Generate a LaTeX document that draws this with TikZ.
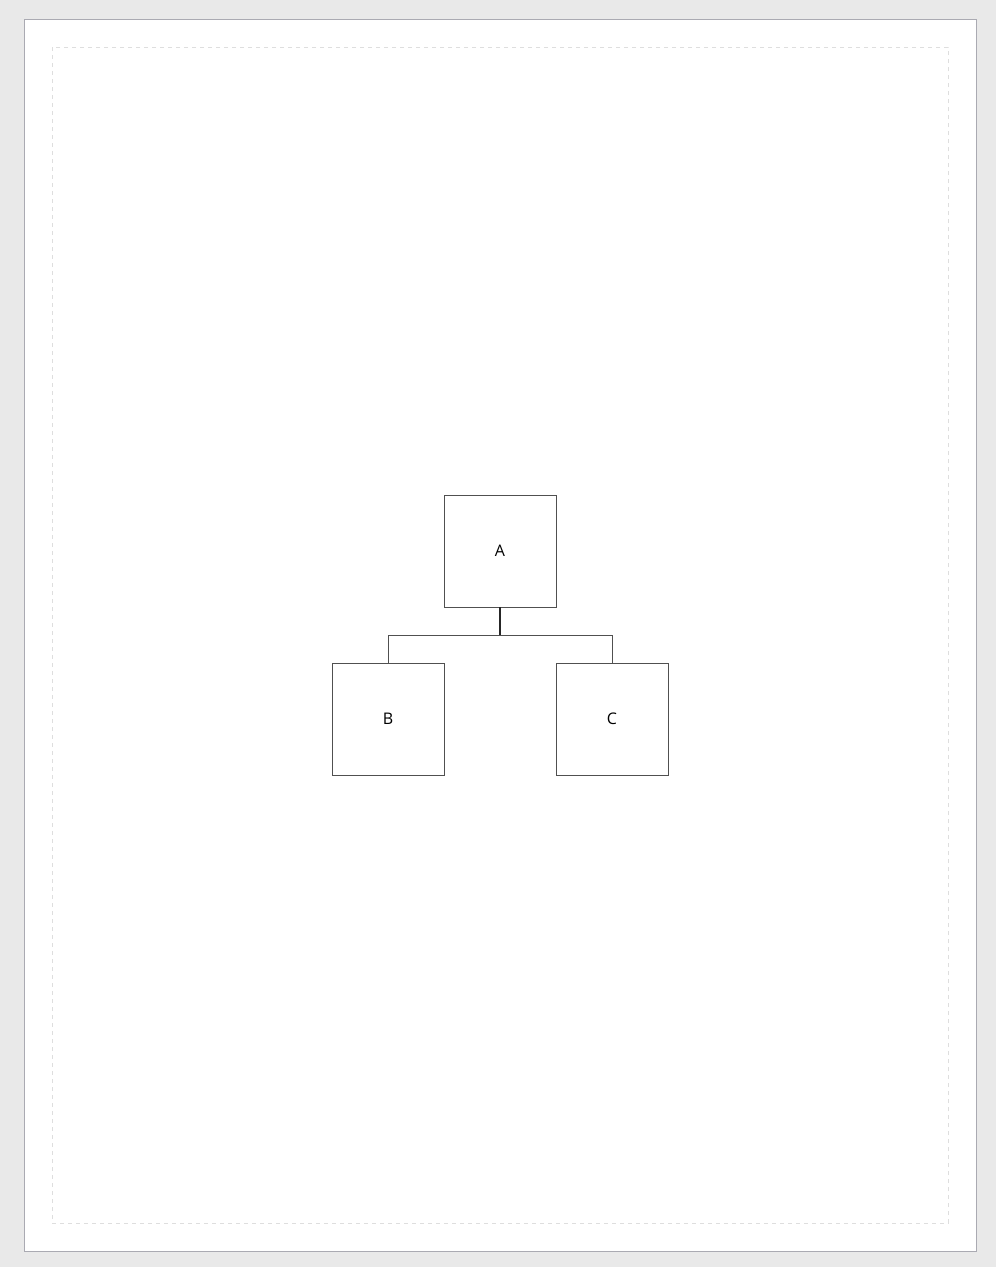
\documentclass[tikz,border=0pt]{standalone}
\usepackage{fontspec}
\setmainfont{Open Sans}
\definecolor{pagegray}{RGB}{233,233,233}
\definecolor{pageedge}{RGB}{170,170,178}
\definecolor{marginline}{RGB}{222,222,222}
\definecolor{boxline}{RGB}{80,80,80}
\usetikzlibrary{calc,positioning}

\begin{document}
\begin{tikzpicture}[
      x=0.75pt, y=-0.75pt,
      font=\fontsize{12pt}{14pt}\selectfont,
      unit/.style={draw=boxline,line width=0.75pt,rectangle,minimum size=84pt,inner sep=0pt,outer sep=0pt},
      link/.style={draw=boxline,line width=0.75pt},
      stem/.style={draw=black!85,line width=1.2pt}
    ]

    % Page
    \useasboundingbox (0,0) rectangle (996,1267);
    \fill[pagegray] (0,0) rectangle (996,1267);
    \draw[pageedge,fill=white,line width=0.75pt] (24,19) rectangle (976,1251);
    \draw[marginline,dashed,line width=0.6pt] (52,47) rectangle (948,1223);

    % Boxes
    \node (A) [unit] at (500,551)              {A};
    \node (B) [unit, below left=42pt and 0pt of A]  {B};
    \node (C) [unit, below right=42pt and 0pt of A] {C};

    % Connectors
    \coordinate (fork) at ($(A.south)!0.5!(A.south |- B.north)$);
    \draw[stem] (A.south) -- (fork);
    \draw[link] (fork) -| (B.north);
    \draw[link] (fork) -| (C.north);
  \end{tikzpicture}
\end{document}
